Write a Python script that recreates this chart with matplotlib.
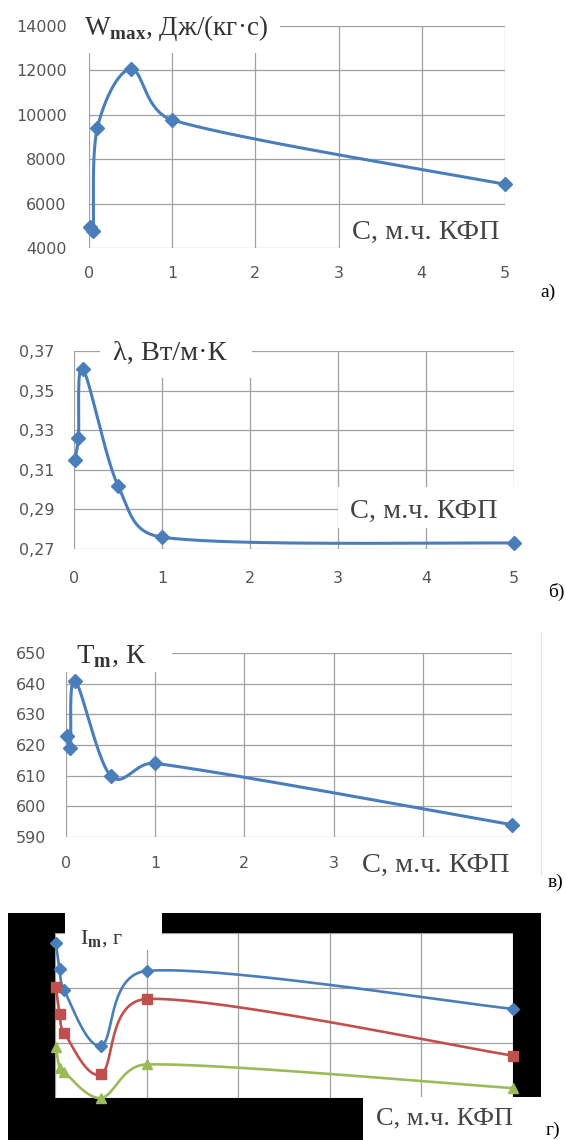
import numpy as np
import matplotlib.pyplot as plt
from matplotlib.patches import Rectangle
from matplotlib.lines import Line2D

W, H = 566, 1140

# data
conc = [0.01, 0.05, 0.1, 0.5, 1, 5]

w_max = [4950, 4780, 9400, 12060, 9770, 6870]
lam = [0.315, 0.326, 0.361, 0.302, 0.276, 0.273]
t_m = [623, 619, 641, 610, 614, 594]
i_blue = [2.81, 2.34, 1.96, 0.95, 2.31, 1.62]
i_red = [2.02, 1.53, 1.19, 0.43, 1.80, 0.77]
i_green = [0.92, 0.55, 0.47, 0.0, 0.61, 0.18]

x_ticks = [0, 1, 2, 3, 4, 5]
ticks_a = [4000, 6000, 8000, 10000, 12000, 14000]
ticks_b = [0.27, 0.29, 0.31, 0.33, 0.35, 0.37]
ticks_c = [590, 600, 610, 620, 630, 640, 650]
ticks_d = [0, 1, 2, 3]

xlabel = 'С, м.ч. КФП'

plt.rcParams['mathtext.fontset'] = 'custom'
plt.rcParams['mathtext.rm'] = 'Liberation Serif'
plt.rcParams['mathtext.bf'] = 'Liberation Serif:bold'

BLUE, RED, GREEN = '#4a7ebb', '#c0504d', '#9bbb59'
GRID = '#a0a0a0'
SERIF = 'Liberation Serif'

fig = plt.figure(figsize=(W / 100, H / 100), dpi=100)
fig.patch.set_facecolor('white')


def px_axes(l, t, r, b, z=0):
    ax = fig.add_axes([l / W, 1 - b / H, (r - l) / W, (b - t) / H], zorder=z)
    for s in ax.spines.values():
        s.set_visible(False)
    ax.grid(True, color=GRID, lw=0.9)
    ax.set_axisbelow(True)
    return ax


def px_rect(x0, y0, x1, y1, color='white', z=1):
    fig.patches.append(Rectangle((x0 / W, 1 - y1 / H), (x1 - x0) / W, (y1 - y0) / H,
                                 transform=fig.transFigure, facecolor=color,
                                 edgecolor='none', zorder=z))


def px_text(x, y, s, size, **kw):
    fig.text(x / W, 1 - y / H, s, fontsize=size, family=SERIF, **kw)


def handle(v, seg, k=0.45):
    n = np.hypot(v[0], v[1])
    lim = k * seg
    return v if n <= lim else v * lim / n


def smooth(ax, xs, ys, n=40):
    # excel-like bezier smoothing in screen space, handles kept short
    p = ax.transData.transform(np.column_stack([xs, ys]))
    out = []
    t = np.linspace(0, 1, n)[:, None]
    for i in range(len(p) - 1):
        p0, p1, p2 = p[max(i - 1, 0)], p[i], p[i + 1]
        p3 = p[min(i + 2, len(p) - 1)]
        seg = np.hypot(*(p2 - p1))
        c1 = p1 + handle((p2 - p0) / 6, seg)
        c2 = p2 - handle((p3 - p1) / 6, seg)
        out.append((1 - t) ** 3 * p1 + 3 * (1 - t) ** 2 * t * c1
                   + 3 * (1 - t) * t ** 2 * c2 + t ** 3 * p2)
    c = ax.transData.inverted().transform(np.vstack(out))
    return c[:, 0], c[:, 1]


def series(ax, ys, color, marker, ms, lw):
    sx, sy = smooth(ax, conc, ys)
    ax.plot(sx, sy, color=color, lw=lw, clip_on=False, solid_capstyle='round')
    ax.plot(conc, ys, ls='none', marker=marker, ms=ms, color=color, clip_on=False)


def ticks(ax, xlabels, yt, ylabels, xpad, ypad):
    ax.set_xticks(x_ticks)
    ax.set_xticklabels(xlabels)
    ax.set_yticks(yt)
    ax.set_yticklabels(ylabels)
    ax.tick_params(length=0, labelsize=11.5, labelcolor='#555555')
    ax.tick_params(axis='x', pad=xpad)
    ax.tick_params(axis='y', pad=ypad)


xl_all = [str(v) for v in x_ticks]

# a) W_max
ax = px_axes(89, 26, 505, 248)
ax.set_xlim(0, 5)
ax.set_ylim(4000, 14000)
ticks(ax, xl_all, ticks_a, [str(v) for v in ticks_a], 13, 16)
series(ax, w_max, BLUE, 'D', 7, 2.2)
px_rect(70, 5, 280, 53)
px_rect(340, 205, 530, 262)
px_text(84, 35, r'W$_{\mathbf{max}}$, Дж/(кг·с)', 19.5, color='#333333')
px_text(352, 239, xlabel, 20.5, color='#444444')
px_text(540, 297, 'а)', 14)

# б) lambda
ax = px_axes(74, 351, 514, 549)
ax.set_xlim(0, 5)
ax.set_ylim(0.27, 0.37)
ticks(ax, xl_all, ticks_b, [f'{v:.2f}'.replace('.', ',') for v in ticks_b], 16, 14)
series(ax, lam, BLUE, 'D', 7, 2.2)
px_rect(100, 335, 252, 378)
px_rect(338, 487, 528, 528)
px_text(113, 360, 'λ, Вт/м·К', 20.5, color='#333333')
px_text(350, 518, xlabel, 20.5, color='#444444')
px_text(548, 597, 'б)', 14)

# в) T_m
ax = px_axes(66, 653, 512, 837)
ax.set_xlim(0, 5)
ax.set_ylim(590, 650)
ticks(ax, ['0', '1', '2', '3', '', ''], ticks_c, [str(v) for v in ticks_c], 14, 14)
series(ax, t_m, BLUE, 'D', 7, 2.2)
px_rect(62, 635, 172, 672)
px_rect(345, 845, 532, 885)
px_text(76, 663, r'T$_{\mathbf{m}}$, К', 20.5, color='#333333')
px_text(362, 872, xlabel, 20.5, color='#444444')
fig.add_artist(Line2D([541 / W, 541 / W], [1 - 632 / H, 1 - 875 / H],
                      transform=fig.transFigure, color='#e6e6e6', lw=1))
px_text(548, 887, 'в)', 14)

# г) I_m
px_rect(8, 913, 541, 1140, color='black', z=1)
ax = px_axes(55, 933, 513, 1098, z=2)
ax.set_facecolor('white')
ax.set_xlim(0, 5)
ax.set_ylim(0, 3)
ax.set_xticks(x_ticks)
ax.set_yticks(ticks_d)
ax.tick_params(length=0, labelbottom=False, labelleft=False)
series(ax, i_blue, BLUE, 'D', 6, 1.9)
series(ax, i_red, RED, 's', 7, 1.9)
series(ax, i_green, GREEN, '^', 7, 1.9)
px_rect(65, 913, 162, 950, z=2.5)
px_rect(363, 1097, 541, 1140, z=2.5)
px_text(80, 944, r'I$_{\mathbf{m}}$, г', 16, color='#333333', zorder=4)
px_text(376, 1124, xlabel, 19, color='#444444', zorder=4)
px_text(546, 1135, 'г)', 14)

fig.savefig('out.png', dpi=100, facecolor='white')
